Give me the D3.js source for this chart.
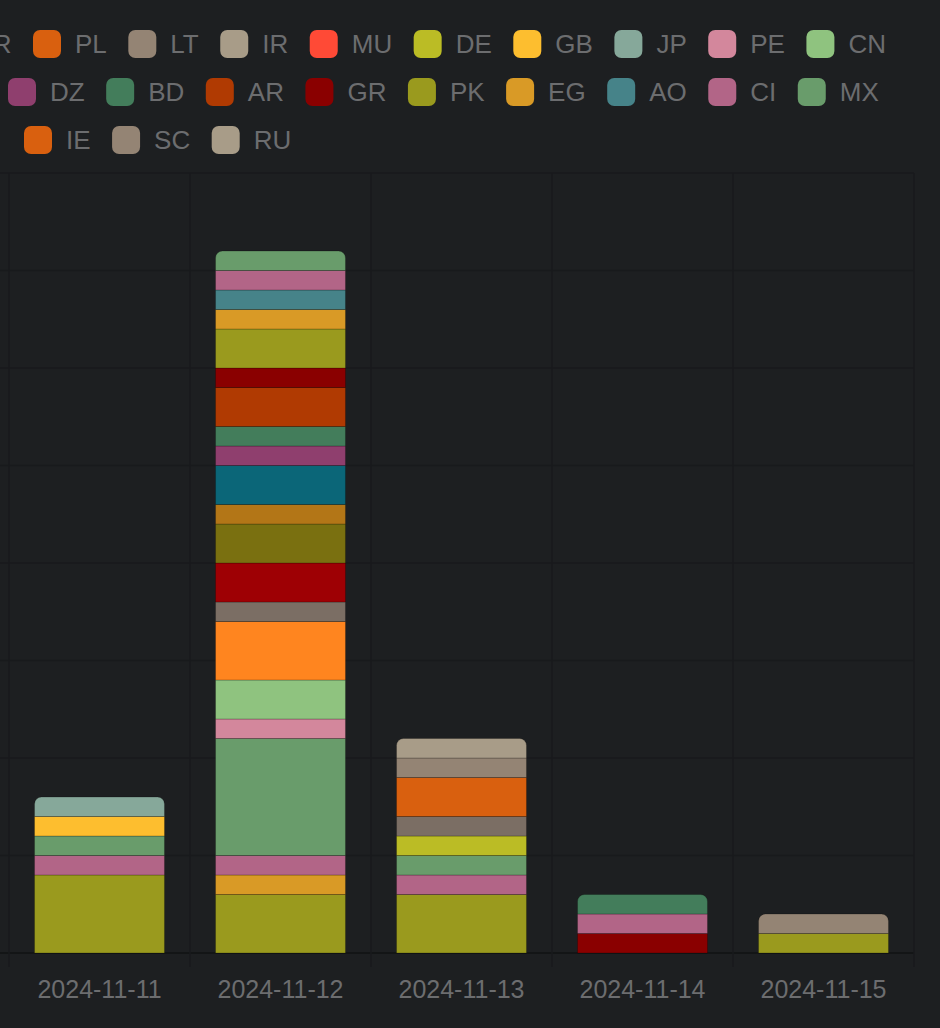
<!DOCTYPE html>
<html>
  <head>
    <script src="https://d3js.org/d3.v7.min.js"></script>
    <style>
      body {margin: 0; background: #1d1f21;}
      svg {display: block; font-family: "Liberation Sans", Arial, sans-serif;}
      #grid line {stroke: #181a1c; stroke-width: 1.5;}
      #grid line.base {stroke: #131516; stroke-width: 2;}
      #legend text {fill: #6c6d6f; font-size: 26px;}
      #xaxis text {fill: #6c6d6f; font-size: 25px;}
      #bars .seg {stroke: rgba(0,0,0,0.22); stroke-width: 1;}
    </style>
  </head>
  <body>
    <svg id="chart" width="940" height="1028">
      <g id="grid"/>
      <g id="bars"/>
      <g id="xaxis"/>
      <g id="legend"/>
    </svg>
  </body>
  <script>
      // dates on the x axis
      const dates = ["2024-11-11", "2024-11-12", "2024-11-13", "2024-11-14", "2024-11-15"];

      // series in stack / legend order (first entries sit left of the visible legend)
      const seriesNames = ["US", "IN", "ID", "BR", "VN", "FR",
          "PL", "LT", "IR", "MU", "DE", "GB", "JP", "PE", "CN",
          "IT", "ES", "TR", "KR", "TH", "UA",
          "DZ", "BD", "AR", "GR", "PK", "EG", "AO", "CI", "MX",
          "IE", "SC", "RU"];
      const seriesColors = ["#8a0000", "#9a9a1e", "#d99a26", "#b26587", "#699c6b", "#5a7fa8",
          "#d9600f", "#948474", "#a89c88", "#ff4a36", "#bbbc25", "#fdbe2f", "#86a89a", "#d3879c", "#8fc37f",
          "#ff851f", "#7b6e64", "#9e0004", "#7a7010", "#b37617", "#0b6678",
          "#8f3f6e", "#437d5b", "#b03a02", "#8a0000", "#9a9a1e", "#d99a26", "#468389", "#b26587", "#699c6b",
          "#d9600f", "#948474", "#a89c88"];
      // counts per series, one value per date
      const counts = [
          [0, 0, 0, 1, 0], [4, 3, 3, 0, 1], [0, 1, 0, 0, 0], [1, 1, 1, 1, 0], [1, 6, 1, 0, 0], [0, 0, 0, 0, 0],
          [0, 0, 0, 0, 0], [0, 0, 0, 0, 1], [0, 0, 0, 0, 0], [0, 0, 0, 0, 0], [0, 0, 1, 0, 0], [1, 0, 0, 0, 0],
          [1, 0, 0, 0, 0], [0, 1, 0, 0, 0], [0, 2, 0, 0, 0],
          [0, 3, 0, 0, 0], [0, 1, 1, 0, 0], [0, 2, 0, 0, 0], [0, 2, 0, 0, 0], [0, 1, 0, 0, 0], [0, 2, 0, 0, 0],
          [0, 1, 0, 0, 0], [0, 1, 0, 1, 0], [0, 2, 0, 0, 0], [0, 1, 0, 0, 0], [0, 2, 0, 0, 0], [0, 1, 0, 0, 0],
          [0, 1, 0, 0, 0], [0, 1, 0, 0, 0], [0, 1, 0, 0, 0],
          [0, 0, 2, 0, 0], [0, 0, 1, 0, 0], [0, 0, 1, 0, 0]];
      const yTicks = [0, 5, 10, 15, 20, 25, 30, 35, 40];

      // legend layout: rows end at these keys; each row is pinned by one visible item
      const rowEnds = ["CN", "MX", "RU"];
      const rowAnchors = {PL: 33, DZ: 8, IE: 24};

      let plot = {left: 9, right: 914, top: 173, bottom: 953};
      let svg = d3.select("#chart");

      let x = d3.scaleBand().domain(dates).range([plot.left, plot.right])
          .paddingInner(0.282).paddingOuter(0.141);
      let y = d3.scaleLinear().domain([0, d3.max(yTicks)]).range([plot.bottom, plot.top]);
      let color = d3.scaleOrdinal().domain(seriesNames).range(seriesColors);

      // grid
      let grid = d3.select("#grid");
      grid.selectAll("line.h").data(yTicks).enter().append("line")
          .attr("class", d => d === 0 ? "h base" : "h")
          .attr("x1", 0).attr("x2", plot.right)
          .attr("y1", d => y(d)).attr("y2", d => y(d));
      let edges = dates.map(d => x(d) - x.step() * x.paddingOuter());
      edges.push(plot.right);
      grid.selectAll("line.v").data(edges).enter().append("line")
          .attr("class", "v")
          .attr("x1", d => d).attr("x2", d => d)
          .attr("y1", plot.top).attr("y2", plot.bottom + 14);

      // stacked bars
      let table = dates.map((d, j) => {
          let row = {date: d};
          seriesNames.forEach((s, i) => { row[s] = counts[i][j]; });
          return row;
      });
      let stacked = d3.stack().keys(seriesNames)(table);
      let topKey = {};
      table.forEach(row => {
          seriesNames.forEach(s => { if (row[s] > 0) topKey[row.date] = s; });
      });

      function roundTop(x0, y0, w, h, r) {
          r = Math.min(r, h, w / 2);
          return `M${x0},${y0 + h}V${y0 + r}A${r},${r} 0 0 1 ${x0 + r},${y0}` +
              `H${x0 + w - r}A${r},${r} 0 0 1 ${x0 + w},${y0 + r}V${y0 + h}Z`;
      }

      let segs = [];
      stacked.forEach(layer => {
          layer.forEach(p => {
              if (p[1] > p[0]) segs.push({key: layer.key, date: p.data.date, y0: p[0], y1: p[1]});
          });
      });
      d3.select("#bars").selectAll("path").data(segs).enter().append("path")
          .attr("class", "seg")
          .attr("fill", d => color(d.key))
          .attr("d", d => {
              let x0 = x(d.date), w = x.bandwidth(), top = y(d.y1), h = y(d.y0) - y(d.y1);
              if (topKey[d.date] === d.key) return roundTop(x0, top, w, h, 7);
              return `M${x0},${top}h${w}v${h}h${-w}Z`;
          });

      // x axis labels
      let xAxis = d3.axisBottom(x).tickSize(0).tickPadding(27);
      d3.select("#xaxis").attr("transform", `translate(0,${plot.bottom})`).call(xAxis)
          .call(g => g.select(".domain").remove())
          .selectAll("text").attr("fill", null);
      d3.select("#xaxis").attr("font-size", null).attr("font-family", null);

      // legend
      let legend = d3.select("#legend");
      let rows = [[]];
      seriesNames.forEach(s => {
          rows[rows.length - 1].push(s);
          if (rowEnds.includes(s) && s !== rowEnds[rowEnds.length - 1]) rows.push([]);
      });
      let swatch = 28, gapText = 14, gapItem = 21.5;
      rows.forEach((items, r) => {
          let cy = 44 + r * 48;
          let widths = items.map(s => {
              let t = legend.append("text").text(s);
              let w = t.node().getComputedTextLength();
              t.remove();
              return w;
          });
          let a = items.findIndex(s => s in rowAnchors);
          let pos = new Array(items.length);
          pos[a] = rowAnchors[items[a]];
          for (let i = a + 1; i < items.length; i++)
              pos[i] = pos[i - 1] + swatch + gapText + widths[i - 1] + gapItem;
          for (let i = a - 1; i >= 0; i--)
              pos[i] = pos[i + 1] - (swatch + gapText + widths[i] + gapItem);
          // items lying wholly left of the picture are scrolled out of view
          let shown = items.map((s, i) => ({key: s, x: pos[i], w: widths[i]}))
              .filter(d => d.x + swatch + gapText + d.w > 0);
          let g = legend.selectAll("g.row" + r).data(shown).enter().append("g")
              .attr("class", "row" + r)
              .attr("transform", d => `translate(${d.x},${cy})`);
          g.filter(d => d.x + swatch > 0)
              .append("rect").attr("y", -swatch / 2).attr("width", swatch).attr("height", swatch)
              .attr("rx", 7).attr("fill", d => color(d.key));
          g.append("text").attr("x", swatch + gapText).attr("dy", "0.35em").text(d => d.key);
      });
  </script>
</html>
